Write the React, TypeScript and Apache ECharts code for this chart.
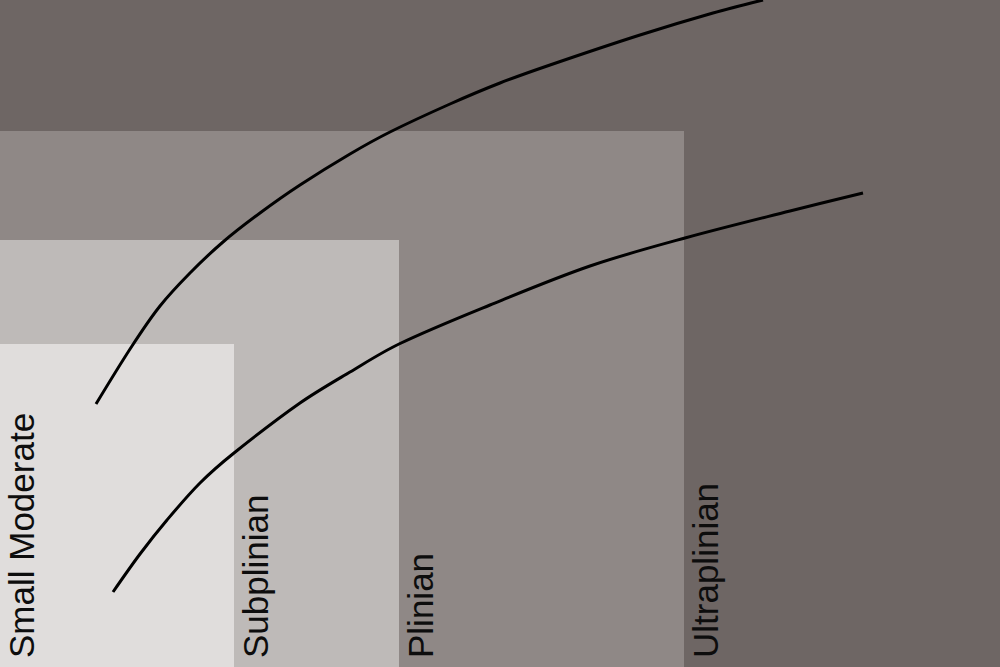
import { useEffect, useRef } from "react";
import * as echarts from "echarts";

// eruption classes, nested boxes drawn from the origin
const classNames = ["Small Moderate", "Subplinian", "Plinian", "Ultraplinian"];
const classRight = [234, 399, 684, 1000];
const classTop = [323, 427, 536, 667];
const classColors = ["#e0dddc", "#bebab8", "#8f8886", "#6e6664"];

// the two curves
const upperX = [96, 132, 160, 190, 223, 260, 300, 350, 390, 450, 500, 550, 640, 713, 763];
const upperY = [263, 321, 361, 394, 425, 454, 482, 513, 535, 563, 584, 602, 632, 654, 667];
const lowerX = [113, 140, 167, 200, 234, 300, 350, 399, 490, 590, 685, 790, 863];
const lowerY = [75, 113, 147, 184, 214, 264, 295, 323, 362, 401, 429, 456, 474];

export default function App() {
  const chartRef = useRef<HTMLDivElement>(null);

  useEffect(() => {
    document.body.style.margin = "0";
    if (!chartRef.current) return;
    const chart = echarts.init(chartRef.current, undefined, { renderer: "svg" });

    // biggest box first so the smaller ones sit on top
    const order = [3, 2, 1, 0];
    const boxData = order.map((i) => ({
      name: classNames[i],
      value: [classRight[i], classTop[i]],
    }));

    chart.setOption({
      animation: false,
      backgroundColor: "#ffffff",
      grid: { left: 0, right: 0, top: 0, bottom: 0 },
      xAxis: { type: "value", min: 0, max: 1000, show: false },
      yAxis: { type: "value", min: 0, max: 667, show: false },
      series: [
        {
          type: "custom",
          clip: false,
          data: boxData,
          renderItem: (params: any, api: any) => {
            const i = order[params.dataIndex];
            const p0 = api.coord([0, 0]);
            const p1 = api.coord([api.value(0), api.value(1)]);
            const stripLeft = i === 0 ? p0[0] : api.coord([classRight[i - 1], 0])[0];
            return {
              type: "group",
              children: [
                {
                  type: "rect",
                  shape: {
                    x: p0[0],
                    y: p1[1],
                    width: p1[0] - p0[0],
                    height: p0[1] - p1[1],
                  },
                  style: { fill: classColors[i] },
                },
                {
                  type: "text",
                  x: stripLeft + 21,
                  y: p0[1] - 9,
                  rotation: Math.PI / 2,
                  style: {
                    text: classNames[i],
                    fontSize: 35,
                    fontFamily: "Liberation Sans, Arial, sans-serif",
                    fill: "#0d0d0d",
                    align: "left",
                    verticalAlign: "middle",
                  },
                },
              ],
            };
          },
        },
        {
          type: "line",
          data: upperX.map((x, i) => [x, upperY[i]]),
          smooth: 0.33,
          symbol: "none",
          z: 5,
          lineStyle: { color: "#000000", width: 3 },
        },
        {
          type: "line",
          data: lowerX.map((x, i) => [x, lowerY[i]]),
          smooth: 0.33,
          symbol: "none",
          z: 5,
          lineStyle: { color: "#000000", width: 3 },
        },
      ],
    });

    return () => {
      chart.dispose();
    };
  }, []);

  return <div ref={chartRef} style={{ width: 1000, height: 667 }} />;
}
